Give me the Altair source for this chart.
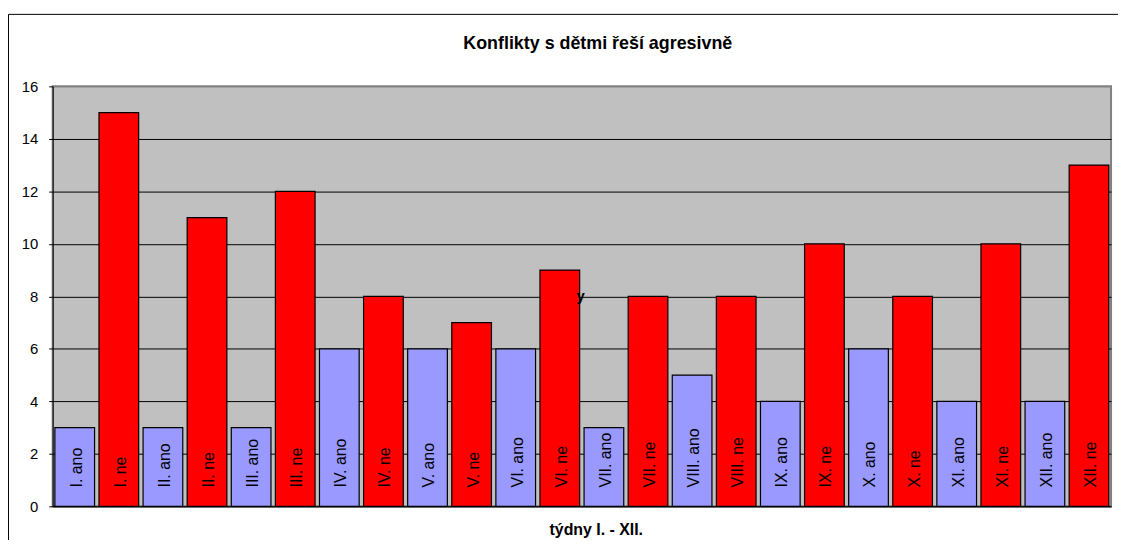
import altair as alt
import pandas as pd

chart_title = ["Konflikty s dětmi řeší agresivně"]
weeks = ["I.", "II.", "III.", "IV.", "V.", "VI.", "VII.", "VIII.", "IX.", "X.", "XI.", "XII."]
ano_values = [3, 3, 3, 6, 6, 6, 3, 5, 4, 6, 4, 4]
ne_values = [15, 11, 12, 8, 7, 9, 8, 8, 10, 8, 10, 13]
answer_kinds = ["ano", "ne"]
y_ticks = [0, 2, 4, 6, 8, 10, 12, 14, 16]
stray_text = ["y"]
stray_category = ["VI. ne"]
stray_value = [8]

rows = []
for w, a, n in zip(weeks, ano_values, ne_values):
    rows.append({"cat": f"{w} ano", "kind": "ano", "value": a})
    rows.append({"cat": f"{w} ne", "kind": "ne", "value": n})
df = pd.DataFrame(rows)
order = list(df["cat"])

FONT = "Liberation Sans"

x_enc = alt.X(
    "cat:N",
    sort=order,
    scale=alt.Scale(paddingInner=0.1, paddingOuter=0.05),
    axis=alt.Axis(
        labels=False, ticks=False, domain=True, domainColor="black",
        title="týdny I. - XII.", titleFont=FONT, titleFontSize=16,
        titleFontWeight="bold", titleColor="black",
        titleX=547, titleY=23, titleBaseline="middle", titleAnchor="middle",
    ),
)
y_scale = alt.Scale(domain=[0, 16], nice=False)

bars = alt.Chart(df).mark_bar(stroke="black", strokeWidth=1.2).encode(
    x=x_enc,
    y=alt.Y(
        "value:Q",
        scale=y_scale,
        axis=alt.Axis(
            values=y_ticks, title=None, grid=True,
            gridColor=alt.condition("datum.value == 16", alt.value("#808080"), alt.value("black")),
            gridWidth=1, domainColor="black", tickColor="black", tickSize=4,
            labelFont=FONT, labelFontSize=15, labelColor="black", labelPadding=11,
        ),
    ),
    color=alt.Color(
        "kind:N",
        scale=alt.Scale(domain=answer_kinds, range=["#9999FF", "#FF0000"]),
        legend=None,
    ),
)

labels = alt.Chart(df).mark_text(
    angle=270, align="left", baseline="middle", dx=19, dy=2,
    font=FONT, fontSize=16, color="black",
).encode(
    x=alt.X("cat:N", sort=order),
    y=alt.Y("zero:Q", scale=y_scale),
    text="cat:N",
).transform_calculate(zero="0")

stray_df = pd.DataFrame({"cat": stray_category, "value": stray_value, "t": stray_text})
stray = alt.Chart(stray_df).mark_text(
    align="center", baseline="middle", dx=21, font=FONT, fontSize=15,
    fontWeight="bold", color="black",
).encode(
    x=alt.X("cat:N", sort=order),
    y=alt.Y("value:Q", scale=y_scale),
    text="t:N",
)

frame = alt.Chart(pd.DataFrame({"a": [0]})).mark_rect(
    fill=None, stroke="black", strokeWidth=1
).encode(
    x=alt.value(-44.5), x2=alt.value(1200), y=alt.value(-72.5), y2=alt.value(600)
)

title = alt.Chart(pd.DataFrame({"t": chart_title})).mark_text(
    align="center", baseline="alphabetic", font=FONT, fontSize=18,
    fontWeight="bold", color="black",
).encode(text="t:N", x=alt.value(549), y=alt.value(-38))

chart = alt.layer(frame, bars, labels, stray, title).properties(
    width=1066,
    height=423,
    background="white",
    autosize=alt.AutoSizeParams(type="none"),
    padding={"left": 45, "top": 77, "right": 7, "bottom": 32},
).configure_view(
    fill="#C0C0C0", stroke="#808080", strokeWidth=2
)

chart.save("out.html", embed_options={"renderer": "svg", "actions": False})
